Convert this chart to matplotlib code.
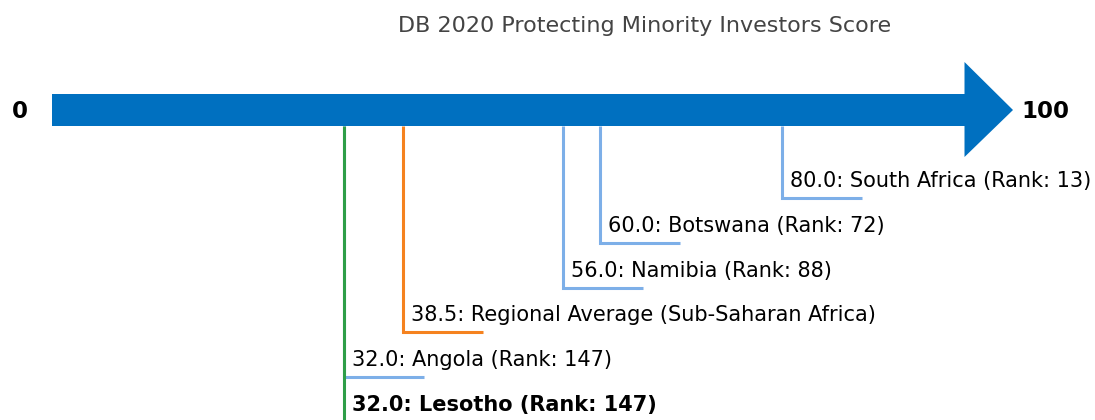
import matplotlib
matplotlib.use("Agg")
import matplotlib.pyplot as plt

title = "DB 2020 Protecting Minority Investors Score"
labels = ["South Africa", "Botswana", "Namibia", "Regional Average (Sub-Saharan Africa)", "Angola", "Lesotho"]
scores = [80.0, 60.0, 56.0, 38.5, 32.0, 32.0]
ranks = [13, 72, 88, None, 147, 147]
kinds = ["peer", "peer", "peer", "avg", "peer", "focus"]

colors = {"peer": "#7dafe8", "avg": "#f5821f", "focus": "#2e9e48"}
arrow_color = "#0070c0"

W, H = 1095, 420
fig = plt.figure(figsize=(W / 100, H / 100), dpi=100)
ax = fig.add_axes([0, 0, 1, 1])
px0, scale = 52.0, 9.125  # pixel of score 0, pixels per score unit
ax.set_xlim(-px0 / scale, (W - px0) / scale)
ax.set_ylim(H, 0)
ax.axis("off")

# arrow
tip = (1013 - px0) / scale
ax.fill([0, 100, 100, tip, 100, 100, 0], [94, 94, 62, 110, 157, 126, 126],
        color=arrow_color, lw=0, zorder=2)
ax.text(-px0 / scale + 12 / scale, 109, "0", fontsize=16.5, fontweight="bold",
        ha="left", va="center_baseline")
ax.text(tip + 8 / scale, 109, "100", fontsize=16.5, fontweight="bold",
        ha="left", va="center_baseline")

ax.text((645 - px0) / scale, 26, title, fontsize=16, color="#444444",
        ha="center", va="center")

y0, step = 198, 44.8
seg = 80 / scale
for i, (lab, s, r, k) in enumerate(zip(labels, scores, ranks, kinds)):
    y = y0 + i * step
    c = colors[k]
    ax.plot([s, s, s + seg], [126, y, y], color=c, lw=2.2,
            solid_capstyle="butt", solid_joinstyle="miter", zorder=1, clip_on=False)
    if r is None:
        txt = f"{s:.1f}: {lab}"
    else:
        txt = f"{s:.1f}: {lab} (Rank: {r})"
    ax.text(s + 8 / scale, y - 17, txt, fontsize=15,
            fontweight="bold" if k == "focus" else "normal",
            ha="left", va="center", color="black")

fig.savefig("out.png", dpi=100)
